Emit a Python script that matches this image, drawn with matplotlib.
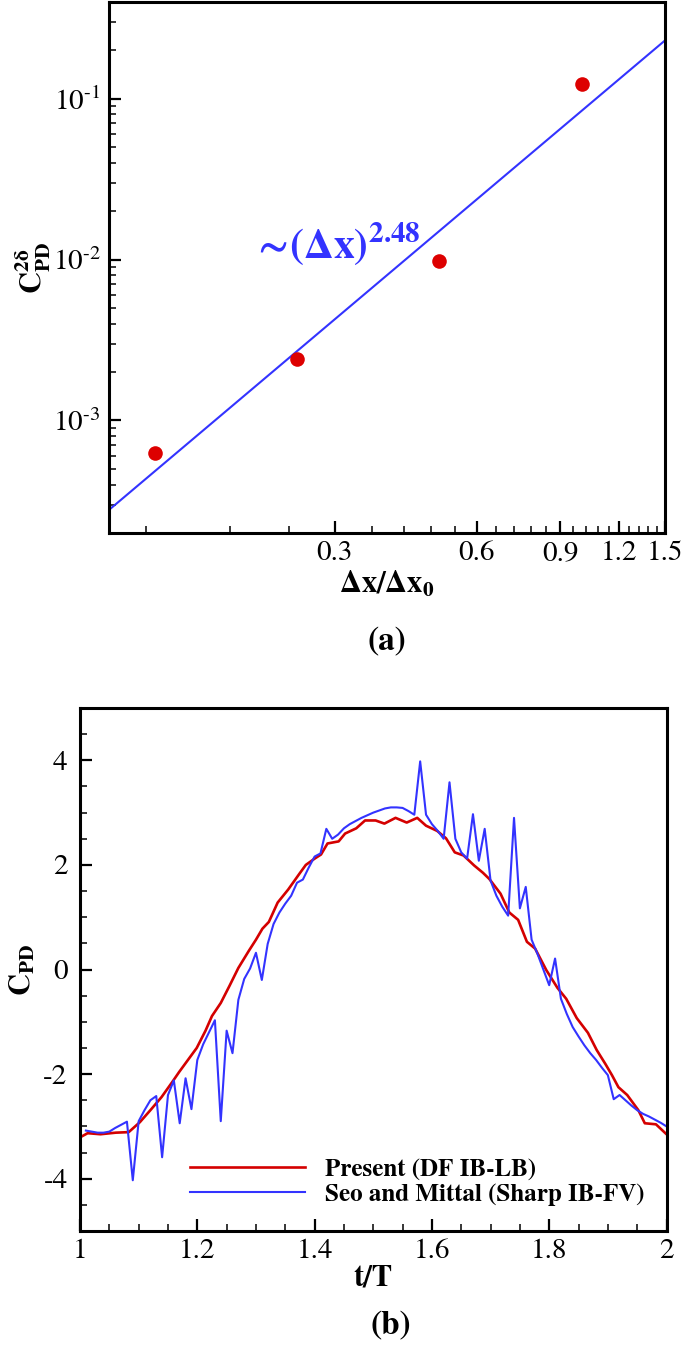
import numpy as np
import matplotlib
matplotlib.use("Agg")
import matplotlib.pyplot as plt
from matplotlib.ticker import FixedLocator, LogLocator, NullFormatter

plt.rcParams['font.family'] = ['STIXGeneral', 'DejaVu Serif']
plt.rcParams['mathtext.fontset'] = 'stix'

# (a) convergence data
dx_ratio = [0.125, 0.25, 0.5, 1.0]
cpd_err = [6.3e-4, 2.4e-3, 9.8e-3, 0.123]
fit_x = [0.1, 1.5]
fit_coef = 0.084
fit_order = 2.48

# (b) power coefficient over one cycle
t_present = [1.000, 1.013, 1.035, 1.061, 1.083, 1.102, 1.120, 1.139, 1.158, 1.169,
             1.184, 1.199, 1.214, 1.225, 1.240, 1.255, 1.270, 1.288, 1.300, 1.311,
             1.322, 1.337, 1.355, 1.374, 1.385, 1.400, 1.411, 1.422, 1.441, 1.452,
             1.471, 1.486, 1.504, 1.519, 1.538, 1.557, 1.575, 1.590, 1.609, 1.624,
             1.639, 1.654, 1.672, 1.687, 1.698, 1.717, 1.732, 1.747, 1.762, 1.776,
             1.795, 1.814, 1.829, 1.847, 1.866, 1.881, 1.896, 1.907, 1.918, 1.933,
             1.952, 1.963, 1.982, 2.000]
cpd_present = [-3.21, -3.13, -3.15, -3.12, -3.11, -2.92, -2.69, -2.44, -2.14, -1.96,
               -1.73, -1.50, -1.17, -0.89, -0.64, -0.31, 0.03, 0.36, 0.57, 0.78,
               0.91, 1.28, 1.53, 1.83, 2.00, 2.12, 2.20, 2.41, 2.45, 2.60,
               2.70, 2.85, 2.85, 2.79, 2.90, 2.81, 2.90, 2.75, 2.65, 2.51,
               2.24, 2.18, 1.99, 1.85, 1.73, 1.45, 1.09, 0.95, 0.53, 0.40,
               -0.01, -0.35, -0.56, -0.93, -1.21, -1.54, -1.81, -2.02, -2.25, -2.40,
               -2.69, -2.94, -2.96, -3.15]

t_seo = [1.01, 1.02, 1.03, 1.04, 1.05, 1.06, 1.07, 1.08, 1.09, 1.10,
         1.11, 1.12, 1.13, 1.14, 1.15, 1.16, 1.17, 1.18, 1.19, 1.20,
         1.21, 1.22, 1.23, 1.24, 1.25, 1.26, 1.27, 1.28, 1.29, 1.30,
         1.31, 1.32, 1.33, 1.34, 1.35, 1.36, 1.37, 1.38, 1.39, 1.40,
         1.41, 1.42, 1.43, 1.44, 1.45, 1.46, 1.47, 1.48, 1.49, 1.50,
         1.51, 1.52, 1.53, 1.54, 1.55, 1.56, 1.57, 1.58, 1.59, 1.60,
         1.61, 1.62, 1.63, 1.64, 1.65, 1.66, 1.67, 1.68, 1.69, 1.70,
         1.71, 1.72, 1.73, 1.74, 1.75, 1.76, 1.77, 1.78, 1.79, 1.80,
         1.81, 1.82, 1.83, 1.84, 1.85, 1.86, 1.87, 1.88, 1.89, 1.90,
         1.91, 1.92, 1.93, 1.94, 1.95, 1.96, 1.97, 1.98, 1.99, 2.00]
cpd_seo = [-3.08, -3.10, -3.12, -3.12, -3.10, -3.03, -2.97, -2.91, -4.03, -2.90,
           -2.69, -2.50, -2.42, -3.59, -2.40, -2.12, -2.94, -2.08, -2.67, -1.73,
           -1.43, -1.20, -0.97, -2.90, -1.17, -1.60, -0.58, -0.18, 0.02, 0.32,
           -0.20, 0.49, 0.87, 1.09, 1.26, 1.41, 1.66, 1.72, 1.95, 2.16,
           2.22, 2.69, 2.50, 2.58, 2.70, 2.78, 2.84, 2.90, 2.95, 3.00,
           3.04, 3.08, 3.10, 3.10, 3.09, 3.03, 2.96, 3.98, 2.96, 2.78,
           2.65, 2.50, 3.58, 2.50, 2.24, 2.12, 2.97, 2.08, 2.69, 1.70,
           1.41, 1.20, 1.03, 2.90, 1.17, 1.58, 0.57, 0.30, 0.00, -0.30,
           0.21, -0.56, -0.85, -1.10, -1.28, -1.45, -1.60, -1.73, -1.88, -2.02,
           -2.48, -2.40, -2.50, -2.60, -2.69, -2.76, -2.81, -2.87, -2.93, -3.00]

RED = '#d40000'
BLUE = '#3333ff'


def style_axes(ax):
    for s in ax.spines.values():
        s.set_linewidth(2.2)
    ax.tick_params(which='both', direction='in', top=False, right=False)
    ax.tick_params(which='major', length=8.5, width=1.6, labelsize=21, pad=6)
    ax.tick_params(which='minor', length=5, width=1.1)


fig = plt.figure(figsize=(6.85, 13.59), dpi=100)

# ---- (a)
ax1 = fig.add_axes([0.1591, 0.6078, 0.8117, 0.3910])
ax1.set_xscale('log')
ax1.set_yscale('log')
fx = np.array(fit_x)
ax1.plot(fx, fit_coef * fx ** fit_order, color=BLUE, lw=1.5)
ax1.plot(dx_ratio, cpd_err, 'o', color='#dd0000', ms=10.5, mec='none')
ax1.set_xlim(0.1, 1.5)
ax1.set_ylim(2e-4, 0.4)
ax1.xaxis.set_major_locator(FixedLocator([0.3, 0.6, 0.9, 1.2, 1.5]))
ax1.set_xticklabels(['0.3', '0.6', '0.9', '1.2', '1.5'])
minor_x = [v for v in np.round(np.arange(0.12, 1.5, 0.06), 2) if v not in (0.3, 0.6, 0.9, 1.2)]
ax1.xaxis.set_minor_locator(FixedLocator(minor_x))
ax1.xaxis.set_minor_formatter(NullFormatter())
ax1.yaxis.set_major_locator(FixedLocator([1e-3, 1e-2, 1e-1]))
ax1.set_yticklabels([r'$10^{\text{-}3}$', r'$10^{\text{-}2}$', r'$10^{\text{-}1}$'])
ax1.yaxis.set_minor_locator(LogLocator(base=10, subs=np.arange(2, 10)))
ax1.yaxis.set_minor_formatter(NullFormatter())
style_axes(ax1)
ax1.set_xlabel(r'$\mathbf{\Delta x/\Delta x_0}$', fontsize=22, labelpad=2)
ax1.set_ylabel(r'$\mathbf{C^{2\delta}_{PD}}$', fontsize=22, labelpad=0)
ax1.text(0.2, 0.0102, r'$\mathbf{\sim\!(\Delta x)^{2.48}}$', color=BLUE,
         fontsize=30, ha='left', va='baseline')

# ---- (b)
ax2 = fig.add_axes([0.1168, 0.0942, 0.8562, 0.3848])
ax2.plot(t_present, cpd_present, color=RED, lw=1.9, label='Present (DF IB-LB)')
ax2.plot(t_seo, cpd_seo, color=BLUE, lw=1.5, label='Seo and Mittal (Sharp IB-FV)')
ax2.set_xlim(1, 2)
ax2.set_ylim(-5, 5)
ax2.set_xticks([1, 1.2, 1.4, 1.6, 1.8, 2])
ax2.set_xticklabels(['1', '1.2', '1.4', '1.6', '1.8', '2'])
ax2.set_xticks(np.arange(1, 2.001, 0.05), minor=True)
ax2.set_yticks([-4, -2, 0, 2, 4])
ax2.set_yticklabels(['-4', '-2', '0', '2', '4'])
ax2.set_yticks(np.arange(-5, 5.001, 0.5), minor=True)
style_axes(ax2)
ax2.tick_params(axis='y', which='major', pad=9)
ax2.set_xlabel('t/T', fontsize=22, fontweight='bold', labelpad=0)
ax2.set_ylabel(r'$\mathbf{C_{PD}}$', fontsize=22, labelpad=4)
ax2.legend(loc='upper left', bbox_to_anchor=(0.188, 0.14), frameon=False,
           prop={'weight': 'bold', 'size': 18}, handlelength=4.6,
           handletextpad=0.8, labelspacing=0.12, borderpad=0, borderaxespad=0)

fig.text(387 / 685, 1 - 642 / 1359, '(a)', fontsize=24, fontweight='bold',
         ha='center', va='center')
fig.text(391 / 685, 1 - 1326 / 1359, '(b)', fontsize=24, fontweight='bold',
         ha='center', va='center')

fig.savefig('out.png', dpi=100)
